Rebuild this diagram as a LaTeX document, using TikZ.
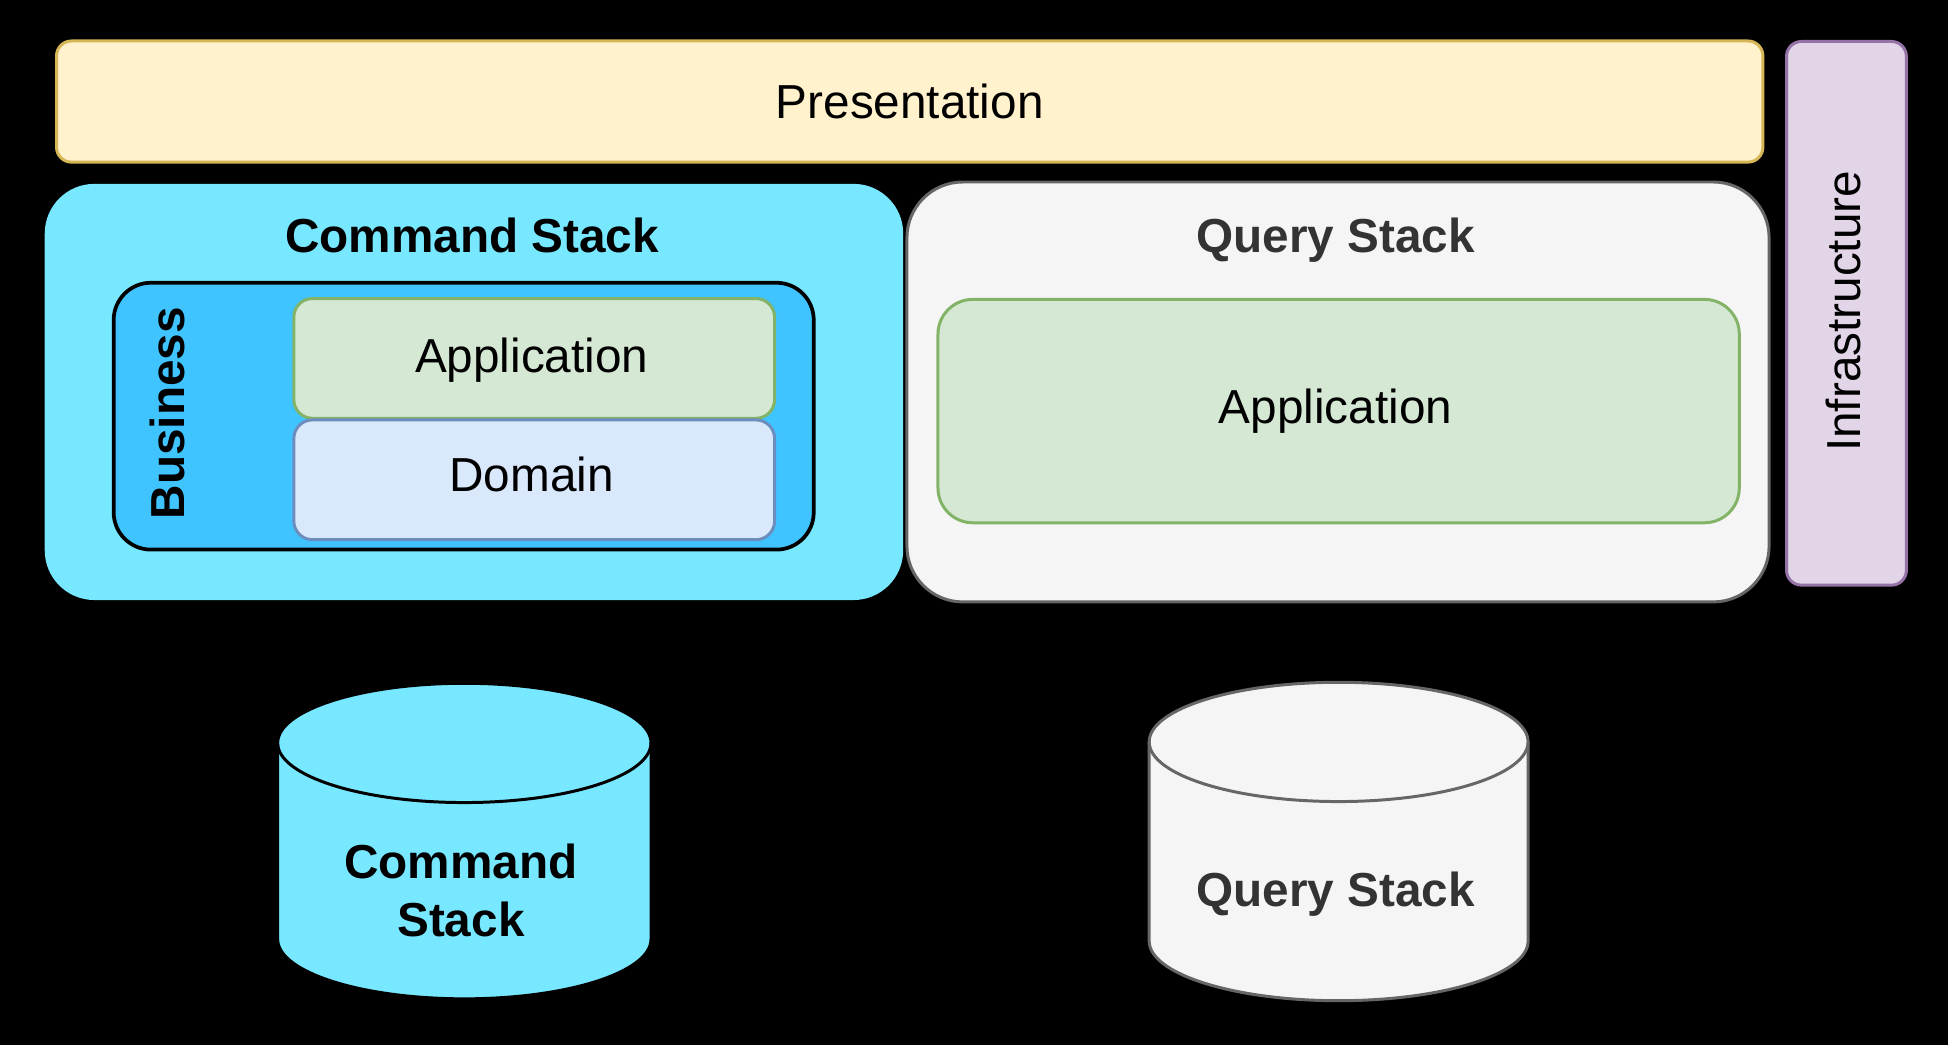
\documentclass[tikz,border=0pt]{standalone}
\usepackage{fontspec}
\setmainfont{Liberation Sans}
\definecolor{presfill}{HTML}{FFF2CC}
\definecolor{presline}{HTML}{D6B656}
\definecolor{infrafill}{HTML}{E1D5E7}
\definecolor{infraline}{HTML}{9673A6}
\definecolor{cmdfill}{HTML}{77E8FF}
\definecolor{busfill}{HTML}{3FC4FF}
\definecolor{qfill}{HTML}{F5F5F5}
\definecolor{qline}{HTML}{666666}
\definecolor{qtext}{HTML}{333333}
\definecolor{appfill}{HTML}{D5E8D4}
\definecolor{appline}{HTML}{82B366}
\definecolor{domfill}{HTML}{DAE8FC}
\definecolor{domline}{HTML}{6C8EBF}
\begin{document}
\begin{tikzpicture}[x=1pt,y=1pt,
  box/.style={rectangle, inner sep=0pt, outer sep=0pt, line width=2.4pt},
  txt/.style={inner sep=0pt, font=\fontsize{38.4}{47}\selectfont, text height=34.75pt, text depth=8.14pt},
  btxt/.style={txt, font=\fontsize{38.4}{47}\selectfont\bfseries}]
\useasboundingbox (0,0) rectangle (1568,840.35);
\fill[black] (-10,-10) rectangle (1578,850);

% Presentation and Infrastructure
\node[box, rounded corners=12pt, draw=presline, fill=presfill, minimum width=1373.5pt, minimum height=97.5pt] (pres) at (732.25,758.6) {};
\node[txt] (prestxt) at (pres.center) {Presentation};
\node[box, rounded corners=12pt, draw=infraline, fill=infrafill, minimum width=96.5pt, minimum height=437.6pt] (infra) at (1486.25,588.15) {};
\node[txt, rotate=90] (infratxt) at (1484,589.75) {Infrastructure};

% Command stack container
\node[box, rounded corners=40pt, fill=cmdfill, minimum width=691pt, minimum height=335pt] (cmd) at (381.5,524.85) {};
\node[btxt] (cmdtitle) at (380,650.35) {Command Stack};
\node[box, rounded corners=30pt, draw=black, line width=3pt, fill=busfill, minimum width=563.5pt, minimum height=214.8pt] (bus) at (373.25,505.35) {};
\node[btxt, rotate=90] (bustxt) at (135,507.75) {Business};
\node[box, rounded corners=15pt, draw=appline, fill=appfill, minimum width=387pt, minimum height=96.4pt] (app1) at (430,551.85) {};
\node[txt] (app1txt) at (428,553.85) {Application};
\node[box, rounded corners=15pt, draw=domline, fill=domfill, minimum width=387pt, minimum height=96.4pt] (dom) at (430,454.15) {};
\node[txt] (domtxt) at (428,458.35) {Domain};

% Query stack container
\node[box, rounded corners=45pt, draw=qline, fill=qfill, minimum width=694pt, minimum height=338pt] (qry) at (1077,524.85) {};
\node[btxt, text=qtext] (qrytitle) at (1075,650.35) {Query Stack};
\node[box, rounded corners=28pt, draw=appline, fill=appfill, minimum width=645pt, minimum height=179.8pt] (app2) at (1077.5,509.45) {};
\node[txt] (app2txt) at (1075,512.55) {Application};

% Cylinders
\filldraw[fill=cmdfill, draw=black, line width=2.4pt]
  (223.5,242.35) -- (223.5,84.35) arc[start angle=180, end angle=360, x radius=150.25, y radius=48]
  -- (524,242.35) arc[start angle=0, end angle=180, x radius=150.25, y radius=48] -- cycle;
\draw[black, line width=2.4pt] (223.5,242.35) arc[start angle=180, end angle=360, x radius=150.25, y radius=48];
\node[btxt, align=center] (cmddb) at (371,99.85) {Command\\Stack};

\filldraw[fill=qfill, draw=qline, line width=2.4pt]
  (925,243.15) -- (925,82.85) arc[start angle=180, end angle=360, x radius=152.5, y radius=48]
  -- (1230,243.15) arc[start angle=0, end angle=180, x radius=152.5, y radius=48] -- cycle;
\draw[qline, line width=2.4pt] (925,243.15) arc[start angle=180, end angle=360, x radius=152.5, y radius=48];
\node[btxt, text=qtext] (qrydb) at (1075,123.85) {Query Stack};
\end{tikzpicture}
\end{document}
